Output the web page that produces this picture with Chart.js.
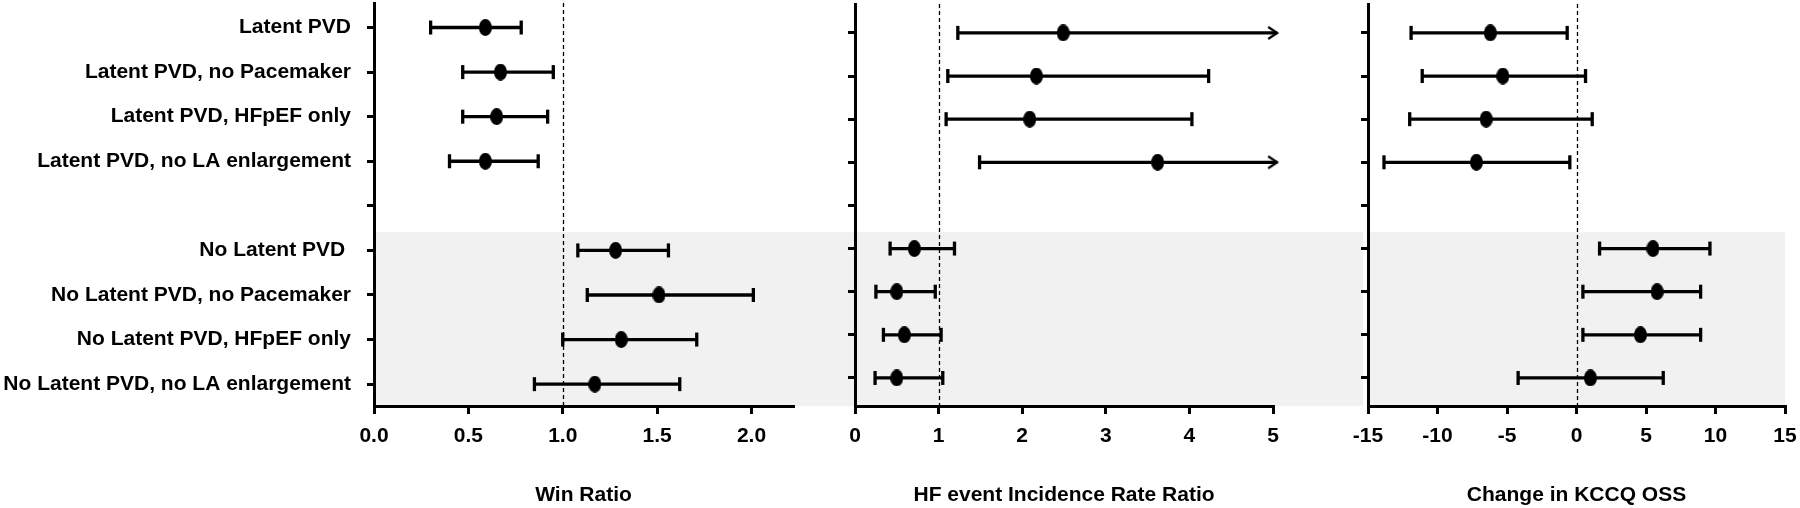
<!DOCTYPE html>
<html>
<head>
<meta charset="utf-8">
<script src="https://cdn.jsdelivr.net/npm/chart.js@4.4.1/dist/chart.umd.min.js"></script>
<style>
  html, body { margin: 0; padding: 0; background: #fff; }
  #wrap { position: relative; width: 1800px; height: 508px; }
  .panel { position: absolute; top: 0; height: 508px; }
</style>
</head>
<body>
<div id="wrap">
  <div class="panel" style="left:0;width:800px"><canvas id="winChart" width="800" height="508"></canvas></div>
  <div class="panel" style="left:800px;width:500px"><canvas id="hfChart" width="500" height="508"></canvas></div>
  <div class="panel" style="left:1300px;width:500px"><canvas id="kccqChart" width="500" height="508"></canvas></div>
</div>
<script>
// rows, top to bottom (index 4 is the empty spacer row)
const categories = [
  'Latent PVD',
  'Latent PVD, no Pacemaker',
  'Latent PVD, HFpEF only',
  'Latent PVD, no LA enlargement',
  '',
  'No Latent PVD ',
  'No Latent PVD, no Pacemaker',
  'No Latent PVD, HFpEF only',
  'No Latent PVD, no LA enlargement'
];
const rowIdx = [0, 1, 2, 3, 4, 5, 6, 7, 8];

// Win Ratio
const winPoint = [0.59, 0.67, 0.65, 0.59, null, 1.28, 1.51, 1.31, 1.17];
const winLow   = [0.30, 0.47, 0.47, 0.40, null, 1.08, 1.13, 1.00, 0.85];
const winHigh  = [0.78, 0.95, 0.92, 0.87, null, 1.56, 2.01, 1.71, 1.62];
const winTicks = [0, 0.5, 1, 1.5, 2];
const winTickLabels = ['0.0', '0.5', '1.0', '1.5', '2.0'];

// HF event incidence rate ratio (arrow = upper limit runs off the axis)
const hfPoint = [2.49, 2.17, 2.09, 3.62, null, 0.71, 0.50, 0.59, 0.50];
const hfLow   = [1.23, 1.11, 1.09, 1.49, null, 0.42, 0.25, 0.34, 0.24];
const hfHigh  = [5.05, 4.23, 4.03, 5.05, null, 1.19, 0.96, 1.03, 1.05];
const hfArrow = [true, false, false, true, false, false, false, false, false];
const hfTicks = [0, 1, 2, 3, 4, 5];
const hfTickLabels = ['0', '1', '2', '3', '4', '5'];

// Change in KCCQ OSS
const kcPoint = [-6.2, -5.3, -6.5, -7.2, null, 5.5, 5.8, 4.6, 1.0];
const kcLow   = [-11.9, -11.1, -12.0, -13.85, null, 1.66, 0.46, 0.46, -4.2];
const kcHigh  = [-0.67, 0.65, 1.13, -0.48, null, 9.6, 8.93, 8.93, 6.24];
const kcTicks = [-15, -10, -5, 0, 5, 10, 15];
const kcTickLabels = ['-15', '-10', '-5', '0', '5', '10', '15'];

const FONT = '"Liberation Sans", Arial, Helvetica, sans-serif';

function ellipseImg(w, h) {
  const c = document.createElement('canvas');
  c.width = w; c.height = h;
  const g = c.getContext('2d');
  g.fillStyle = '#000';
  g.beginPath();
  g.ellipse(w / 2, h / 2, w / 2, h / 2, 0, 0, Math.PI * 2);
  g.fill();
  return c;
}

function chevronImg() {
  const c = document.createElement('canvas');
  c.width = 24; c.height = 16;
  const g = c.getContext('2d');
  g.strokeStyle = '#000';
  g.lineWidth = 2.2;
  g.beginPath();
  g.moveTo(3, 2); g.lineTo(12, 8); g.lineTo(3, 14);
  g.stroke();
  return c;
}

const dot = ellipseImg(13, 17);
const chevron = chevronImg();

const bandPlugin = {
  id: 'band',
  beforeDraw(chart, args, o) {
    const { ctx, chartArea, scales } = chart;
    const top = scales.y.getPixelForValue(o.from);
    const h = chartArea.bottom - top;
    ctx.save();
    ctx.fillStyle = '#f1f1f1';
    if (o.mode === 'fromAxis') {
      ctx.fillRect(chartArea.left, top, chart.width - chartArea.left, h);
    } else if (o.mode === 'split') {
      ctx.fillRect(0, top, chartArea.left - 5, h);
      ctx.fillRect(chartArea.left, top, chartArea.right - chartArea.left, h);
    } else {
      ctx.fillRect(0, top, chart.width, h);
    }
    ctx.restore();
  }
};

const refLinePlugin = {
  id: 'refLine',
  beforeDatasetsDraw(chart, args, o) {
    const { ctx, chartArea, scales } = chart;
    const x = Math.round(scales.x.getPixelForValue(o.value)) + 0.5;
    ctx.save();
    ctx.strokeStyle = '#000';
    ctx.lineWidth = 1.3;
    ctx.setLineDash([4, 3]);
    ctx.beginPath();
    ctx.moveTo(x, chartArea.top);
    ctx.lineTo(x, chartArea.bottom);
    ctx.stroke();
    ctx.restore();
  }
};

function makePanel(id, p) {
  const whisker = [];
  const caps = [];
  const arrows = [];
  const points = [];
  rowIdx.forEach(i => {
    if (p.point[i] == null) return;
    whisker.push({ x: p.low[i], y: i }, { x: p.high[i], y: i }, { x: null, y: null });
    caps.push({ x: p.low[i], y: i });
    if (p.arrow && p.arrow[i]) arrows.push({ x: p.high[i], y: i });
    else caps.push({ x: p.high[i], y: i });
    points.push({ x: p.point[i], y: i });
  });

  return new Chart(document.getElementById(id), {
    type: 'scatter',
    data: {
      datasets: [
        { data: whisker, showLine: true, spanGaps: false, borderColor: '#000', borderWidth: 3.3,
          pointRadius: 0, clip: false },
        { data: caps, pointStyle: 'line', rotation: 90, pointRadius: 7, borderColor: '#000',
          borderWidth: 3.3, clip: false },
        { data: arrows, pointStyle: chevron, clip: false },
        { data: points, pointStyle: dot, clip: false }
      ]
    },
    options: {
      responsive: false,
      animation: false,
      layout: { autoPadding: false, padding: { top: p.padTop, right: p.padRight, left: 0, bottom: 0 } },
      plugins: {
        legend: { display: false },
        tooltip: { enabled: false },
        band: { from: p.bandFrom, mode: p.bandMode },
        refLine: { value: p.ref }
      },
      scales: {
        x: {
          type: 'linear',
          min: p.xMin, max: p.xMax,
          afterBuildTicks: s => { s.ticks = p.xTicks.map(v => ({ value: v })); },
          afterFit: s => { s.height = 102; s.paddingLeft = 0; s.paddingRight = 0; },
          ticks: {
            color: '#000', padding: 10,
            font: { family: FONT, size: 21, weight: 'bold' },
            callback: (v, i) => p.xLabels[i]
          },
          grid: { drawOnChartArea: false, tickLength: 8, lineWidth: 3, color: '#000' },
          border: { display: true, color: '#000', width: 3 },
          title: {
            display: true, text: p.title, color: '#000', padding: 0,
            font: { family: FONT, size: 21, weight: 'bold' }
          }
        },
        y: {
          type: 'linear',
          reverse: true,
          min: p.yMin, max: p.yMax,
          afterBuildTicks: s => { s.ticks = rowIdx.map(v => ({ value: v })); },
          afterFit: s => { s.width = p.yWidth; s.paddingTop = 0; s.paddingBottom = 0; },
          ticks: {
            color: '#000', padding: 16, autoSkip: false,
            font: { family: FONT, size: 21, weight: 'bold' },
            callback: v => p.showLabels ? categories[v] : ''
          },
          grid: { drawOnChartArea: false, tickLength: 7, lineWidth: 3, color: '#000' },
          border: { display: true, color: '#000', width: 3 }
        }
      }
    },
    plugins: [bandPlugin, refLinePlugin]
  });
}

makePanel('winChart', {
  point: winPoint, low: winLow, high: winHigh,
  xMin: 0, xMax: 2.22, xTicks: winTicks, xLabels: winTickLabels, ref: 1,
  title: 'Win Ratio', showLabels: true,
  yMin: -0.55, yMax: 8.49, yWidth: 374, padTop: 3, padRight: 7,
  bandFrom: 4.59, bandMode: 'fromAxis'
});

makePanel('hfChart', {
  point: hfPoint, low: hfLow, high: hfHigh, arrow: hfArrow,
  xMin: 0, xMax: 5, xTicks: hfTicks, xLabels: hfTickLabels, ref: 1,
  title: 'HF event Incidence Rate Ratio', showLabels: false,
  yMin: -0.67, yMax: 8.65, yWidth: 55, padTop: 4, padRight: 27,
  bandFrom: 4.62, bandMode: 'full'
});

makePanel('kccqChart', {
  point: kcPoint, low: kcLow, high: kcHigh,
  xMin: -15, xMax: 15, xTicks: kcTicks, xLabels: kcTickLabels, ref: 0,
  title: 'Change in KCCQ OSS', showLabels: false,
  yMin: -0.67, yMax: 8.65, yWidth: 68, padTop: 4, padRight: 15,
  bandFrom: 4.62, bandMode: 'split'
});
</script>
</body>
</html>
